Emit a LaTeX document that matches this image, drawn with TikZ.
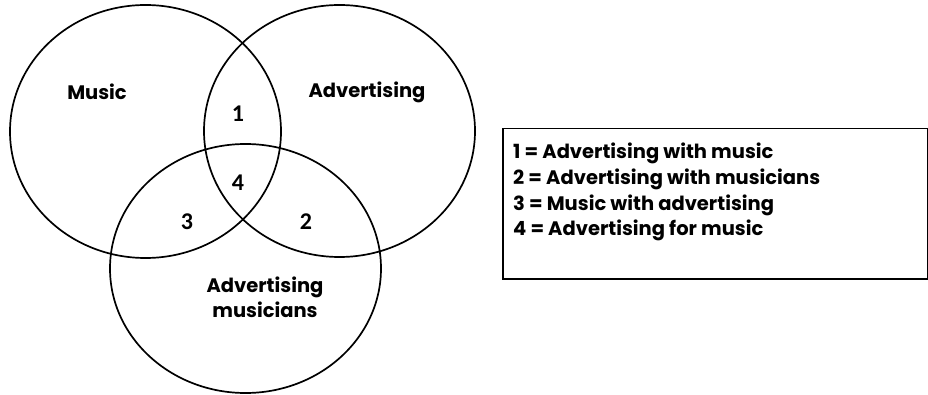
\documentclass[tikz,border=0pt]{standalone}
\usepackage{fontspec}
\setmainfont{Poppins}
\newfontfamily\numfont{Carlito}
\begin{document}
\begin{tikzpicture}[x=1pt,y=-1pt,
  venn/.style={draw=black,line width=1.7pt},
  lab/.style={font=\bfseries\fontsize{19.5}{25}\selectfont,align=center},
  num/.style={font=\numfont\bfseries\fontsize{24}{26}\selectfont},
  legend/.style={font=\bfseries\fontsize{19.5}{25}\selectfont,anchor=base west,inner sep=0pt}]
\useasboundingbox (0,0) rectangle (928,395);
\draw[venn] (145.5,131.5) ellipse [x radius=135.5, y radius=126.5];
\draw[venn] (339.5,131) ellipse [x radius=135.5, y radius=126];
\draw[venn] (245.5,268.5) ellipse [x radius=135.5, y radius=124.5];
\node[lab] (music) at (97,92) {Music};
\node[lab] (adv) at (367,92) {Advertising};
\node[lab] (advmus) at (265,297) {Advertising\\musicians};
\node[num] (n1) at (238,114) {1};
\node[num] (n4) at (238,183) {4};
\node[num] (n3) at (187,222) {3};
\node[num] (n2) at (306,222) {2};
\node[draw=black,line width=1.5pt,minimum width=425,minimum height=150,anchor=north west,inner sep=0pt] (box) at (502,128) {};
\node[legend] (l1) at (513,159) {1 = Advertising with music};
\node[legend] (l2) at (513,185) {2 = Advertising with musicians};
\node[legend] (l3) at (513,211) {3 = Music with advertising};
\node[legend] (l4) at (513,236) {4 = Advertising for music};
\end{tikzpicture}
\end{document}
